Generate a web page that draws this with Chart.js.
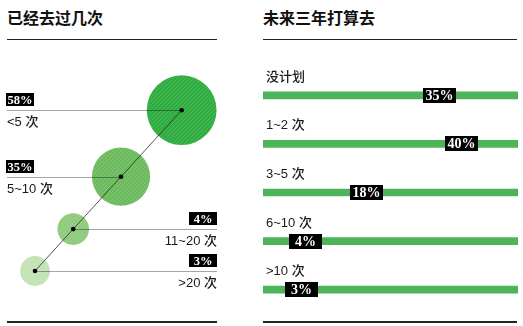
<!DOCTYPE html>
<html>
<head>
<meta charset="utf-8">
<script src="https://cdn.jsdelivr.net/npm/chart.js@4.4.0/dist/chart.umd.min.js"></script>
<style>
html, body { margin: 0; padding: 0; background: #fff; }
body { width: 523px; height: 326px; position: relative; overflow: hidden;
       font-family: 'Noto Sans CJK SC', 'Noto Sans', sans-serif; }
.title { position: absolute; top: 7px; font-size: 16px; font-weight: bold; color: #111; line-height: 20px; }
.rule { position: absolute; background: #222; }
canvas { position: absolute; top: 0; }
</style>
</head>
<body>
<div class="title" style="left:7px">已经去过几次</div>
<div class="title" style="left:263px">未来三年打算去</div>
<div class="rule" style="left:7px;width:210px;top:39px;height:1px"></div>
<div class="rule" style="left:263px;width:254px;top:39px;height:1px"></div>
<div class="rule" style="left:7px;width:210px;top:321px;height:2px"></div>
<div class="rule" style="left:263px;width:254px;top:321px;height:2px"></div>
<canvas id="visitChart" width="230" height="326" style="left:0"></canvas>
<canvas id="planChart" width="268" height="326" style="left:255px"></canvas>

<script>
// ---------- data ----------
const visitCategories = ['<5 次', '5~10 次', '11~20 次', '>20 次'];
const visitShares = [58, 35, 4, 3];
const visitColors = ['#30ad40', '#6cbb5f', '#8fca7d', '#c4e3b5'];

const planCategories = ['没计划', '1~2 次', '3~5 次', '6~10 次', '>10 次'];
const planShares = [35, 40, 18, 4, 3];
const planRange = [-5.8, 53];
const planColor = '#4db45a';

const valueFont = 'bold 14px "Liberation Serif", "DejaVu Serif", serif';
const smallValueFont = 'bold 12.5px "Liberation Serif", "DejaVu Serif", serif';
const catFont = '500 13px "Liberation Sans", "Noto Sans CJK SC", sans-serif';

// diagonal stripes inside the bubbles
function stripes(color) {
    const c = document.createElement('canvas');
    c.width = 4; c.height = 4;
    const g = c.getContext('2d');
    g.fillStyle = color;
    g.fillRect(0, 0, 4, 4);
    g.strokeStyle = 'rgba(255,255,255,0.13)';
    g.lineWidth = 1;
    g.beginPath();
    g.moveTo(-1, 5); g.lineTo(5, -1);
    g.moveTo(-1, 1); g.lineTo(1, -1);
    g.moveTo(3, 5); g.lineTo(5, 3);
    g.stroke();
    return g.createPattern(c, 'repeat');
}

function valueBox(ctx, text, x, y, w, h, font) {
    ctx.fillStyle = '#000';
    ctx.fillRect(Math.round(x), Math.round(y), w, h);
    ctx.fillStyle = '#fff';
    ctx.font = font;
    ctx.textAlign = 'center';
    ctx.textBaseline = 'middle';
    ctx.fillText(text, Math.round(x) + w / 2, Math.round(y) + h / 2 + 1);
}

// ---------- left: bubbles on a diagonal ----------
// bubble size grows with the share, bubbles are strung along the diagonal
const radii = visitShares.map(v => 9 + 3.4 * Math.sqrt(v));
const origin = { x: 35, y: 271 };
const dir = { x: 0.674, y: -0.739 };
const gap = 26;
const dist = [];
let t = 0;
for (let i = visitShares.length - 1; i >= 0; i--) {
    if (i < visitShares.length - 1) t += radii[i + 1] + radii[i] + gap;
    dist[i] = t;
}
const bubblePoints = visitShares.map((v, i) => ({
    x: origin.x + dir.x * dist[i],
    y: origin.y + dir.y * dist[i],
    r: radii[i]
}));

const visitLabels = {
    id: 'visitLabels',
    afterDatasetDraw(chart, args) {
        if (args.index !== 0) return;
        const ctx = chart.ctx;
        const left = 7, right = 217;
        ctx.save();
        args.meta.data.forEach((pt, i) => {
            const onLeft = pt.x > (left + right) / 2;
            const cy = Math.round(pt.y) + 0.5;
            ctx.strokeStyle = 'rgba(0,0,0,0.35)';
            ctx.lineWidth = 1;
            ctx.beginPath();
            if (onLeft) { ctx.moveTo(left, cy); ctx.lineTo(pt.x, cy); }
            else { ctx.moveTo(pt.x, cy); ctx.lineTo(right, cy); }
            ctx.stroke();
            const w = 28, h = 13;
            valueBox(ctx, visitShares[i] + '%', onLeft ? left - 1 : right - w, cy - 18, w, h, smallValueFont);
            ctx.fillStyle = '#1a1a1a';
            ctx.font = catFont;
            ctx.textBaseline = 'middle';
            ctx.textAlign = onLeft ? 'left' : 'right';
            ctx.fillText(visitCategories[i], onLeft ? left : right, cy + 12);
        });
        ctx.restore();
    }
};

new Chart(document.getElementById('visitChart'), {
    type: 'bubble',
    data: {
        datasets: [
            {
                data: bubblePoints,
                backgroundColor: visitColors.map(stripes),
                borderWidth: 0,
                order: 1
            },
            {
                type: 'line',
                data: bubblePoints.map(p => ({ x: p.x, y: p.y })),
                borderColor: '#2a2a2a',
                borderWidth: 0.8,
                pointRadius: 2.3,
                pointBackgroundColor: '#000',
                pointBorderWidth: 0,
                order: 0
            }
        ]
    },
    options: {
        responsive: false,
        animation: false,
        events: [],
        layout: { padding: 0, autoPadding: false },
        scales: {
            x: { type: 'linear', min: 0, max: 230, display: false },
            y: { type: 'linear', min: 0, max: 326, reverse: true, display: false }
        },
        plugins: { legend: { display: false }, tooltip: { enabled: false } }
    },
    plugins: [visitLabels]
});

// ---------- right: tracks with value markers ----------
const planLabels = {
    id: 'planLabels',
    afterDatasetsDraw(chart) {
        const ctx = chart.ctx;
        const xs = chart.scales.x, ys = chart.scales.y;
        ctx.save();
        planCategories.forEach((cat, i) => {
            const y = ys.getPixelForValue(i);
            const x = xs.getPixelForValue(planShares[i]);
            ctx.fillStyle = '#1a1a1a';
            ctx.font = catFont;
            ctx.textAlign = 'left';
            ctx.textBaseline = 'middle';
            ctx.fillText(cat, chart.chartArea.left + 3, y - 18);
            const w = 33, h = 15;
            valueBox(ctx, planShares[i] + '%', x - w / 2, y - h / 2, w, h, valueFont);
        });
        ctx.restore();
    }
};

new Chart(document.getElementById('planChart'), {
    type: 'bar',
    data: {
        labels: planCategories,
        datasets: [{
            data: planCategories.map(() => planRange),
            backgroundColor: planColor,
            borderWidth: 0,
            barThickness: 7
        }]
    },
    options: {
        indexAxis: 'y',
        responsive: false,
        animation: false,
        events: [],
        layout: { padding: { left: 8, right: 5, top: 71, bottom: 12 } },
        scales: {
            x: { type: 'linear', min: planRange[0], max: planRange[1], display: false },
            y: { display: false }
        },
        plugins: { legend: { display: false }, tooltip: { enabled: false } }
    },
    plugins: [planLabels]
});
</script>
</body>
</html>
